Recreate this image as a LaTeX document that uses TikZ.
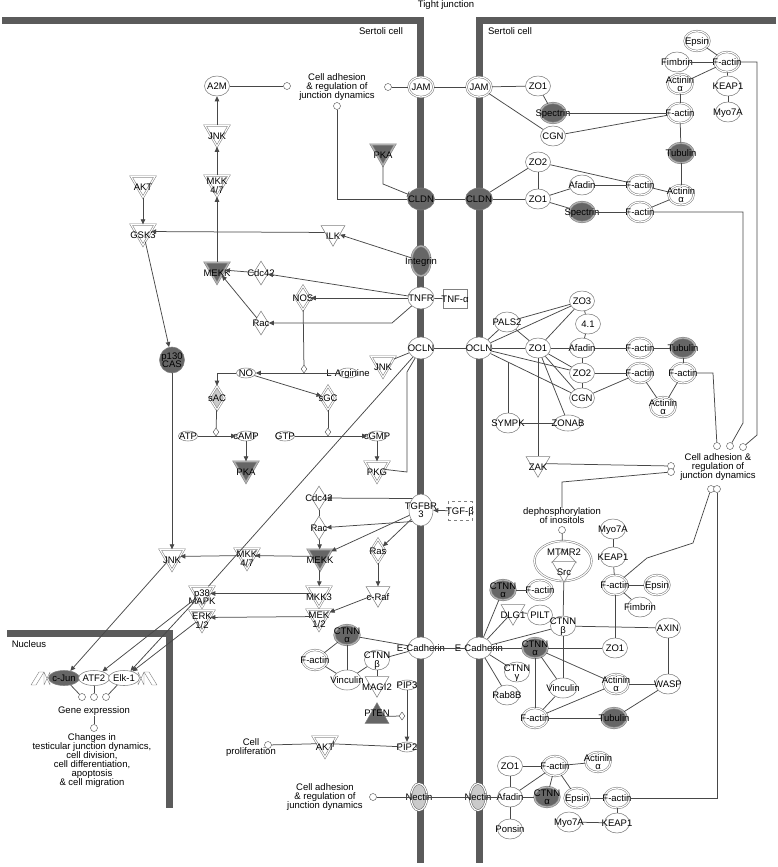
\documentclass[tikz,border=0pt]{standalone}
\usepackage{fontspec}
\setmainfont{Liberation Sans}
\usetikzlibrary{shapes.geometric, arrows, arrows.meta, positioning, calc}
\definecolor{barra}{HTML}{5B5B5B}
\definecolor{linea}{HTML}{484848}
\definecolor{borde}{HTML}{808080}
\definecolor{oscuro}{HTML}{666666}
\definecolor{claro}{HTML}{CACACA}
\newsavebox{\etqbox}
\newcommand{\dos}[2]{\begin{tabular}{@{}c@{}}#1\\[-1.5pt]#2\end{tabular}}
\tikzset{
  baja/.store in=\baja, baja=-3.4pt,
  nodo/.style={draw=borde, line width=0.55pt, fill=white, inner sep=0pt, font=\fontsize{9.5}{9.5}\selectfont,
               execute at begin node={\setbox\etqbox=\hbox\bgroup},
               execute at end node={\egroup\raisebox{\baja}[0pt][0pt]{\makebox[0pt]{\box\etqbox}}}},
  gen/.style={nodo, ellipse, minimum width=25, minimum height=20},
  gend/.style={gen, fill=oscuro},
  dgen/.style={gen, double=white, double distance=1.1pt},
  dgend/.style={gen, fill=oscuro, double=gray!60, double distance=1.1pt},
  rec/.style={gen, minimum width=26, minimum height=22},
  kin/.style={nodo, regular polygon, regular polygon sides=3, shape border rotate=180,
              minimum size=27.5, yshift=3.5pt, baja=-6.9pt},
  dkin/.style={kin, double=white, double distance=1.1pt},
  dkind/.style={kin, fill=oscuro, double=gray!60, double distance=1.1pt},
  fosd/.style={nodo, regular polygon, regular polygon sides=3, minimum size=27.5,
               fill=oscuro, yshift=-3.5pt, baja=0.1pt},
  enz/.style={nodo, diamond, minimum width=15, minimum height=24},
  denz/.style={enz, double=white, double distance=1.1pt},
  mol/.style={nodo, ellipse, minimum width=19, minimum height=10},
  caja/.style={nodo, rectangle, minimum width=24, minimum height=19},
  punto/.style={circle, draw=linea, fill=white, minimum size=7, inner sep=0pt},
  cat/.style={diamond, draw=linea, fill=white, minimum width=6, minimum height=8, inner sep=0pt},
  txt/.style={font=\fontsize{9.5}{9}\selectfont, align=center, inner sep=0pt},
  cinta/.style={draw=borde, fill=white, line join=round},
  arrow/.style={line width=0.75pt,->,>={Triangle[length=5pt,width=4.5pt]},color=linea},
  inhib/.style={line width=0.75pt,-|,color=linea},
  enlace/.style={line width=0.75pt,color=linea},
  membrana/.style={line width=7pt, color=barra}
}

\begin{document}
\begin{tikzpicture}[x=1pt, y=-1pt]
  \useasboundingbox (0,0) rectangle (778,867);
  % membranas
  \draw [membrana] (2,20.5) -| (420.5,863);
  \draw [membrana] (776,20.5) -| (479.5,863);
  \draw [membrana] (7,633.5) -| (169.5,808);
  \node (tj) [txt] at (446,5.5) {Tight junction};
  \node (sc1) [txt] at (381,31) {Sertoli cell};
  \node (sc2) [txt] at (510,31) {Sertoli cell};
  \node (nuc) [txt] at (29,644) {Nucleus};

  % celula izquierda
  \node (a2m) [gen] at (217,86) {A2M};
  \node (p1) [punto] at (287,86) {};
  \node (ca1) [txt] at (337,87) {Cell adhesion\\\& regulation of\\junction dynamics};
  \node (p2) [punto] at (388,87) {};
  \node (p3) [punto] at (337,106) {};
  \node (jam1) [dgen] at (421,87) {JAM};
  \node (jam2) [dgen] at (479,87) {JAM};
  \node (jnk1) [dkin] at (217,136) {JNK};
  \node (mkk1) [dkin] at (217,186) {\dos{MKK}{4/7}};
  \node (akt1) [dkin] at (143,187) {AKT};
  \node (gsk) [dkin] at (143,235) {GSK3};
  \node (ilk) [kin] at (333,236) {ILK};
  \node (mekk1) [dkind] at (217,273) {MEKK};
  \node (cdc1) [enz] at (261,273) {Cdc42};
  \node (pka1) [dkind] at (383,155) {PKA};
  \node (cldn1) [gend, minimum width=27, minimum height=22] at (421,199) {CLDN};
  \node (cldn2) [gend, minimum width=27, minimum height=22] at (479,199) {CLDN};
  \node (integ) [dgend, minimum width=19, minimum height=30] at (421,261) {Integrin};
  \node (tnfr) [rec] at (421,298) {TNFR};
  \node (tnfa) [caja] at (455,299) {TNF-α};
  \node (nos) [denz] at (303,298) {NOS};
  \node (rac1) [enz] at (261,323) {Rac};
  \node (ocln1) [rec] at (421,348) {OCLN};
  \node (p130) [gend, minimum height=26] at (172,360) {\dos{p130}{CAS}};
  \node (no) [mol] at (246,373) {NO};
  \node (larg) [mol] at (348,373) {L-Arginine};
  \node (nosc) [cat] at (304,369) {};
  \node (jnk2) [dkin] at (383,367) {JNK};
  \node (sac) [denz, fill=claro] at (217,398) {sAC};
  \node (sgc) [denz] at (328,398) {sGC};
  \node (sacc) [cat] at (216,432) {};
  \node (sgcc) [cat] at (328,432) {};
  \node (atp) [mol] at (188,436) {ATP};
  \node (camp) [mol] at (246,436) {cAMP};
  \node (gtp) [mol] at (285,436) {GTP};
  \node (cgmp) [mol] at (377,436) {cGMP};
  \node (pka2) [dkind] at (246,472) {PKA};
  \node (pkg) [dkin] at (377,472) {PKG};
  \node (cdc2) [enz] at (319,498) {Cdc42};
  \node (tgfbr) [rec, minimum width=24, minimum height=32] at (421,510) {\dos{TGFBR}{3}};
  \node (tgfb) [caja, dashed] at (460,511) {TGF-β};
  \node (rac2) [enz] at (319,528) {Rac};
  \node (ras) [denz] at (378,551) {Ras};
  \node (mekk2) [dkind] at (320,560) {MEKK};
  \node (mkk2) [dkin] at (247,559) {\dos{MKK}{4/7}};
  \node (jnk3) [dkin] at (172,560) {JNK};
  \node (mkk3) [dkin] at (319,597) {MKK3};
  \node (craf) [kin] at (378,597) {c-Raf};
  \node (p38) [dkin] at (202,597) {\dos{p38}{MAPK}};
  \node (mek) [dkin] at (319,620) {\dos{MEK}{1/2}};
  \node (erk) [dkin] at (202,621) {\dos{ERK}{1/2}};
  \node (ctnna1) [dgend] at (347,635) {\dos{CTNN}{α}};
  \node (fal) [dgen] at (315,660) {F-actin};
  \node (ctnnb1) [gen] at (377,660) {\dos{CTNN}{β}};
  \node (vinc1) [gen, minimum width=28] at (347,680) {Vinculin};
  \node (magi) [kin] at (377,687) {MAGI2};
  \node (pip3) [mol] at (407,685) {PIP3};
  \node (pten) [fosd] at (377,713) {PTEN};
  \node (pipc) [cat] at (402,716) {};
  \node (pip2) [mol] at (407,747) {PIP2};
  \node (akt2) [dkin] at (325,747) {AKT};
  \node (prolif) [txt] at (251,748) {Cell\\proliferation};
  \node (p4) [punto] at (268,745) {};
  \node (ecad1) [rec] at (421,648) {E-Cadherin};
  \node (ecad2) [rec] at (479,648) {E-Cadherin};
  \node (nec1) [dgen, fill=claro, draw=oscuro, minimum width=16, minimum height=27] at (419,797) {Nectin};
  \node (nec2) [dgen, fill=claro, draw=oscuro, minimum width=16, minimum height=27] at (478,797) {Nectin};
  \node (ca2) [txt] at (325,797) {Cell adhesion\\\& regulation of\\junction dynamics};
  \node (p5) [punto] at (373,797) {};

  % nucleo
  \draw [cinta] (31,685) -- (39,672) -- (44,672) -- (36,685) -- cycle;
  \draw [cinta] (44,672) -- (50,685) -- (50,672) -- (44,685) -- cycle;
  \draw [cinta] (157,685) -- (149,672) -- (144,672) -- (152,685) -- cycle;
  \draw [cinta] (144,672) -- (138,685) -- (138,672) -- (144,685) -- cycle;
  \node (cjun) [gend, minimum width=31, minimum height=15] at (64,678) {c-Jun};
  \node (atf2) [gen, minimum width=31, minimum height=15] at (94,678) {ATF2};
  \node (elk) [gen, minimum width=31, minimum height=15] at (124,678) {Elk-1};
  \node (q1) [punto] at (82,697) {};
  \node (q2) [punto] at (94,697) {};
  \node (q3) [punto] at (106,697) {};
  \node (gene) [txt] at (94,711) {Gene expression};
  \node (q4) [punto] at (94,728) {};
  \node (cambios) [txt] at (92,761) {Changes in\\testicular junction dynamics,\\cell division,\\cell differentiation,\\apoptosis\\\& cell migration};

  % celula derecha
  \node (zo1a) [gen] at (538,86) {ZO1};
  \node (spec1) [dgend] at (553,113) {Spectrin};
  \node (cgn1) [gen] at (553,136) {CGN};
  \node (fa1) [dgen] at (680,113) {F-actin};
  \node (ac1) [dgen] at (680,84) {\dos{Actinin}{α}};
  \node (fim1) [gen] at (677,62) {Fimbrin};
  \node (ep1) [dgen] at (697,41) {Epsin};
  \node (fa2) [dgen] at (727,62) {F-actin};
  \node (kea1) [gen] at (728,86) {KEAP1};
  \node (myo1) [gen] at (728,112) {Myo7A};
  \node (tub1) [dgend] at (681,153) {Tubulin};
  \node (ac2) [dgen] at (681,195) {\dos{Actinin}{α}};
  \node (zo2a) [gen] at (538,162) {ZO2};
  \node (zo1b) [gen] at (538,199) {ZO1};
  \node (afa1) [gen] at (582,185) {Afadin};
  \node (fa3) [dgen] at (640,185) {F-actin};
  \node (spec2) [dgend] at (582,212) {Spectrin};
  \node (fa4) [dgen] at (640,212) {F-actin};
  \node (ocln2) [rec] at (479,348) {OCLN};
  \node (pals) [gen] at (507,322) {PALS2};
  \node (zo3) [gen] at (582,301) {ZO3};
  \node (n41) [gen] at (588,324) {4.1};
  \node (zo1c) [gen] at (538,348) {ZO1};
  \node (afa2) [gen] at (582,348) {Afadin};
  \node (zo2b) [gen] at (582,373) {ZO2};
  \node (cgn2) [gen] at (582,398) {CGN};
  \node (zonab) [gen, minimum width=28, minimum height=16] at (568,423) {ZONAB};
  \node (sympk) [gen] at (508,423) {SYMPK};
  \node (zak) [kin] at (538,467) {ZAK};
  \node (fa5) [dgen] at (640,348) {F-actin};
  \node (tub2) [dgend] at (683,348) {Tubulin};
  \node (fa6) [dgen] at (640,373) {F-actin};
  \node (fa7) [dgen] at (683,373) {F-actin};
  \node (ac3) [dgen] at (663,407) {\dos{Actinin}{α}};
  \node (pa) [punto] at (717,446) {};
  \node (pb) [punto] at (730,446) {};
  \node (pc) [punto] at (743,447) {};
  \node (pd) [punto] at (671,466) {};
  \node (pe) [punto] at (671,472) {};
  \node (ca3) [txt] at (718,467) {Cell adhesion \&\\regulation of\\junction dynamics};
  \node (pf) [punto] at (711,489) {};
  \node (pg) [punto] at (717,489) {};
  \node (deph) [txt] at (562,516) {dephosphorylation\\of inositols};
  \node (ph) [punto] at (562,530) {};
  \node (mtmr) [gen, double=white, double distance=1.1pt, minimum width=57, minimum height=40] at (563,561) {};
  \draw [draw=borde, line width=0.55pt] (551.5,563) -- (564,549) -- (576.5,563);
  \node (src) [kin] at (564,572) {Src};
  \node (mtmrt) [txt] at (564,552) {MTMR2};
  \node (myo2) [gen] at (613,529) {Myo7A};
  \node (kea2) [gen] at (613,557) {KEAP1};
  \node (fa8) [dgen] at (615,585) {F-actin};
  \node (ep2) [dgen] at (657,585) {Epsin};
  \node (fim2) [gen] at (640,607) {Fimbrin};
  \node (ctnna2) [dgend] at (503,590) {\dos{CTNN}{α}};
  \node (fa9) [dgen] at (540,590) {F-actin};
  \node (dlg) [kin] at (513,615) {DLG1};
  \node (pilt) [gen] at (540,615) {PILT};
  \node (ctnnb2) [gen] at (563,626) {\dos{CTNN}{β}};
  \node (ctnna3) [dgend] at (535,648) {\dos{CTNN}{α}};
  \node (zo1d) [gen] at (615,648) {ZO1};
  \node (axin) [gen] at (668,628) {AXIN};
  \node (ctnng) [gen] at (517,672) {\dos{CTNN}{γ}};
  \node (rab) [gen] at (507,695) {Rab8B};
  \node (vinc2) [gen, minimum width=28] at (563,688) {Vinculin};
  \node (ac4) [dgen] at (616,684) {\dos{Actinin}{α}};
  \node (wasp) [gen] at (668,684) {WASP};
  \node (fa10) [dgen] at (535,718) {F-actin};
  \node (tub3) [dgend] at (614,718) {Tubulin};
  \node (zo1e) [gen] at (510,766) {ZO1};
  \node (afa3) [gen] at (510,797) {Afadin};
  \node (ponsin) [gen] at (510,829) {Ponsin};
  \node (fa11) [dgen] at (555,766) {F-actin};
  \node (ac5) [dgen] at (598,762) {\dos{Actinin}{α}};
  \node (ctnna4) [dgend] at (547,797) {\dos{CTNN}{α}};
  \node (ep3) [dgen] at (577,798) {Epsin};
  \node (fa12) [dgen] at (617,798) {F-actin};
  \node (kea3) [gen] at (617,823) {KEAP1};
  \node (myo3) [gen] at (569,822) {Myo7A};

  % enlaces
  \draw [enlace] (a2m) -- (p1);
  \draw [enlace] (p2) -- (jam1);
  \draw [enlace] (jam1) -- (jam2);
  \draw [enlace] (jam2) -- (zo1a);
  \draw [enlace] (jam2) -- (cgn1);
  \draw [enlace] (zo1a) -- (spec1);
  \draw [enlace] (spec1) -- (fa1);
  \draw [enlace] (cgn1) -- (fa1);
  \draw [enlace] (fa1) -- (ac1);
  \draw [enlace] (ac1) -- (fa2);
  \draw [enlace] (fim1) -- (fa2);
  \draw [enlace] (ep1) -- (fa2);
  \draw [enlace] (fa2) -- (kea1);
  \draw [enlace] (kea1) -- (myo1);
  \draw [enlace] (fa1) -- (tub1);
  \draw [enlace] (tub1) -- (ac2);
  \draw [enlace] (cldn1) -- (cldn2);
  \draw [enlace] (cldn2) -- (zo2a);
  \draw [enlace] (cldn2) -- (zo1b);
  \draw [enlace] (zo2a) -- (zo1b);
  \draw [enlace] (zo2a) -- (fa3);
  \draw [enlace] (zo1b) -- (afa1);
  \draw [enlace] (afa1) -- (fa3);
  \draw [enlace] (fa3) -- (ac2);
  \draw [enlace] (zo1b) -- (spec2);
  \draw [enlace] (spec2) -- (fa4);
  \draw [enlace] (fa4) -- (ac2);
  \draw [enlace] (fa4) -- (743,212) -- (743,423) -- (pb);
  \draw [enlace] (fa2) -- (757,62) -- (757,435) -- (pc);
  \draw [arrow] (mkk1) -- (jnk1);
  \draw [arrow] (jnk1) -- (a2m);
  \draw [arrow] (mekk1) -- (mkk1);
  \draw [arrow] (akt1) -- (gsk);
  \draw [arrow] (ilk) -- (gsk);
  \draw [arrow] (integ) -- (ilk);
  \draw [arrow] (cdc1) -- (mekk1);
  \draw [arrow] (tnfr) -- (cdc1);
  \draw [arrow] (tnfr) -- (nos);
  \draw [arrow] (tnfr.south west) -- (392,323) -- (rac1);
  \draw [arrow] (rac1) -- (mekk1);
  \draw [enlace] (tnfa) -- (tnfr);
  \draw [inhib] (pka1) -- (383,184) -- (cldn1.160);
  \draw [enlace] (p3) |- (cldn1);
  \draw [arrow] (gsk) -- (p130);
  \draw [arrow] (p130) -- (jnk3);
  \draw [arrow] (larg) -- (no);
  \draw [enlace] (nos) -- (nosc);
  \draw [arrow] (no) -| (sac);
  \draw [arrow] (no) -- (sgc);
  \draw [enlace] (sac) -- (sacc);
  \draw [arrow] (atp) -- (camp);
  \draw [arrow] (camp) -- (pka2);
  \draw [enlace] (sgc) -- (sgcc);
  \draw [arrow] (gtp) -- (cgmp);
  \draw [arrow] (cgmp) -- (pkg);
  \draw [enlace] (jnk2) -- (ocln1);
  \draw [enlace] (pkg) -- (407,472) -- (407,372) -- (ocln1);
  \draw [enlace] (ocln1) -- (p38);
  \draw [arrow] (tgfb) -- (tgfbr);
  \draw [arrow] (tgfbr.north west) -- (cdc2);
  \draw [arrow] (tgfbr.south west) -- (rac2);
  \draw [arrow] (tgfbr) -- (mekk2);
  \draw [arrow] (tgfbr) -- (ras);
  \draw [enlace] (cdc2) -- (rac2);
  \draw [arrow] (rac2) -- (mekk2);
  \draw [arrow] (mekk2) -- (mkk2);
  \draw [arrow] (mkk2) -- (jnk3);
  \draw [arrow] (mekk2) -- (mkk3);
  \draw [arrow] (mkk3) -- (p38);
  \draw [arrow] (ras) -- (craf);
  \draw [arrow] (craf) -- (mek);
  \draw [arrow] (mek) -- (erk);
  \draw [arrow] (jnk3) -- (cjun);
  \draw [arrow] (p38) -- (atf2);
  \draw [arrow] (p38) -- (elk);
  \draw [arrow] (erk) -- (elk);
  \draw [enlace] (cjun) -- (q1);
  \draw [enlace] (atf2) -- (q2);
  \draw [enlace] (elk) -- (q3);
  \draw [enlace] (gene) -- (q4);
  \draw [enlace] (ecad1) -- (ecad2);
  \draw [enlace] (ctnna1) -- (ecad1);
  \draw [enlace] (ctnnb1) -- (ecad1);
  \draw [enlace] (ctnna1) -- (fal);
  \draw [enlace] (ctnna1) -- (vinc1);
  \draw [enlace] (fal) -- (vinc1);
  \draw [enlace] (vinc1) -- (ctnnb1);
  \draw [enlace] (ctnnb1) -- (magi);
  \draw [enlace] (pten) -- (pipc);
  \draw [arrow] (pip3) -- (pip2);
  \draw [inhib] (pip2) -- (akt2);
  \draw [enlace] (akt2) -- (p4);
  \draw [enlace] (nec1) -- (nec2);
  \draw [enlace] (p5) -- (nec1);
  \draw [enlace] (ocln1) -- (ocln2);
  \draw [enlace] (ocln2) -- (pals);
  \draw [enlace] (ocln2) -- (zo3);
  \draw [enlace] (ocln2) -- (zo1c);
  \draw [enlace] (ocln2) -- (zo2b);
  \draw [enlace] (ocln2) -- (cgn2);
  \draw [enlace] (pals) -- (zo1c);
  \draw [enlace] (pals) -- (zo3);
  \draw [enlace] (zo3) -- (zo1c);
  \draw [enlace] (zo3) -- (n41);
  \draw [enlace] (n41) -- (afa2);
  \draw [enlace] (afa2) -- (zo2b);
  \draw [enlace] (zo2b) -- (cgn2);
  \draw [enlace] (zo1c) -- (afa2);
  \draw [enlace] (zo1c) -- (zo2b);
  \draw [enlace] (zo1c) -- (cgn2);
  \draw [enlace] (zo1c) -- (zonab);
  \draw [enlace] (zonab) -- (sympk);
  \draw [enlace] (sympk) -- (508,362);
  \draw [enlace] (zo1c) -- (zak);
  \draw [enlace] (zak) -- (pd);
  \draw [enlace] (pe) -- (562,482) -- (deph);
  \draw [enlace] (afa2) -- (fa5);
  \draw [enlace] (fa5) -- (tub2);
  \draw [enlace] (tub2) -- (fa7);
  \draw [enlace] (zo2b) -- (fa6);
  \draw [enlace] (cgn2) -- (fa6);
  \draw [enlace] (fa6) -- (ac3);
  \draw [enlace] (fa7) -- (ac3);
  \draw [enlace] (fa7) -- (713,373) -- (pa);
  \draw [enlace] (pf) -- (693,543) -- (647,558) -- (fa8);
  \draw [enlace] (pg) |- (fa12);
  \draw [enlace] (ph) -- (mtmr);
  \draw [enlace] (src) -- (ctnnb2);
  \draw [enlace] (myo2) -- (kea2);
  \draw [enlace] (kea2) -- (fa8);
  \draw [enlace] (fa8) -- (ep2);
  \draw [enlace] (fa8) -- (fim2);
  \draw [enlace] (fa8) -- (zo1d);
  \draw [enlace] (ecad2) -- (ctnna2);
  \draw [enlace] (ecad2) -- (dlg);
  \draw [enlace] (dlg) -- (pilt);
  \draw [enlace] (ctnna2) -- (fa9);
  \draw [enlace] (ecad2) -- (ctnnb2);
  \draw [enlace] (ecad2) -- (ctnna3);
  \draw [enlace] (ecad2) -- (ctnng);
  \draw [enlace] (ecad2) -- (rab);
  \draw [enlace] (ctnnb2) -- (axin);
  \draw [enlace] (ctnnb2) -- (vinc2);
  \draw [enlace] (ctnna3) -- (zo1d);
  \draw [enlace] (ctnna3) -- (vinc2);
  \draw [enlace] (ctnna3) -- (ac4);
  \draw [enlace] (ctnna3) -- (fa10);
  \draw [enlace] (vinc2) -- (fa10);
  \draw [enlace] (fa10) -- (ac4);
  \draw [enlace] (fa10) -- (tub3);
  \draw [enlace] (ac4) -- (wasp);
  \draw [enlace] (axin) -- (wasp);
  \draw [enlace] (wasp) -- (tub3);
  \draw [enlace] (nec2) -- (afa3);
  \draw [enlace] (afa3) -- (zo1e);
  \draw [enlace] (afa3) -- (ponsin);
  \draw [enlace] (zo1e) -- (fa11);
  \draw [enlace] (fa11) -- (ac5);
  \draw [enlace] (afa3) -- (fa11);
  \draw [enlace] (afa3) -- (ctnna4);
  \draw [enlace] (fa11) -- (ctnna4);
  \draw [enlace] (fa11) -- (ep3);
  \draw [enlace] (ep3) -- (fa12);
  \draw [enlace] (fa12) -- (kea3);
  \draw [enlace] (kea3) -- (myo3);
\end{tikzpicture}
\end{document}
